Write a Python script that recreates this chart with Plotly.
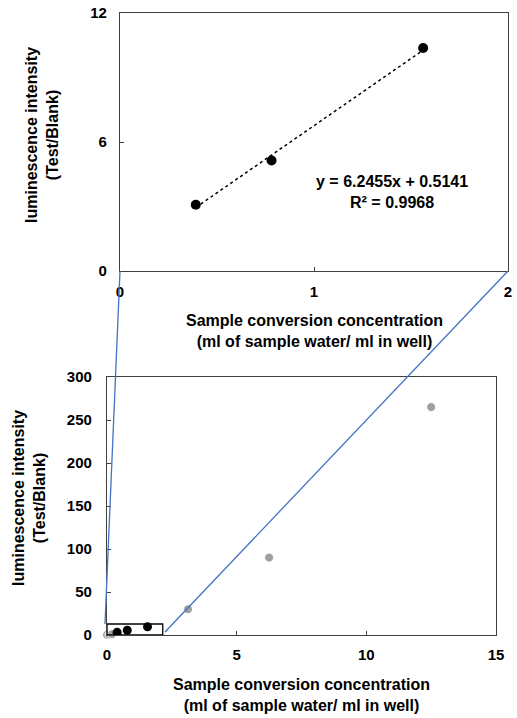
import plotly.graph_objects as go

W, H = 517, 718

# ---- data ----
zoom_x = [0.390625, 0.78125, 1.5625]
zoom_y = [3.08, 5.14, 10.37]
full_gray_x = [0.0, 0.098, 0.195, 3.125, 6.25, 12.5]
full_gray_y = [0.2, 0.5, 1.0, 30, 90, 265]
full_black_x = [0.390625, 0.78125, 1.5625]
full_black_y = [3.08, 5.5, 9.5]
slope, intercept = 6.2455, 0.5141
r2 = 0.9968
top_xticks = [0, 1, 2]
top_yticks = [0, 6, 12]
bot_xticks = [0, 5, 10, 15]
bot_yticks = [0, 50, 100, 150, 200, 250, 300]

x_title = "Sample conversion concentration<br>(ml of sample water/ ml in well)"
y_title = "luminescence intensity<br>(Test/Blank)"

FONT = "Liberation Sans, Arial, sans-serif"
bold = dict(family=FONT, size=16, color="#000000", weight="bold")
tickbold = dict(family=FONT, size=15, color="#000000", weight="bold")
AX = "#404040"
BLUE = "#4472C4"

def px(x):
    return x / W

def py(y):
    return 1 - y / H

fig = go.Figure()

trend_x = [min(zoom_x), max(zoom_x)]
trend_y = [slope * v + intercept for v in trend_x]
fig.add_trace(go.Scatter(x=trend_x, y=trend_y, mode="lines",
                         line=dict(color="#000000", width=1.5, dash="dot"),
                         xaxis="x", yaxis="y", showlegend=False, hoverinfo="skip"))
fig.add_trace(go.Scatter(x=zoom_x, y=zoom_y, mode="markers",
                         marker=dict(color="#000000", size=10),
                         xaxis="x", yaxis="y", showlegend=False))

fig.add_trace(go.Scatter(x=full_gray_x, y=full_gray_y, mode="markers",
                         marker=dict(color="#A0A0A0", size=9,
                                     line=dict(color="#FFFFFF", width=1)),
                         xaxis="x2", yaxis="y2", showlegend=False, cliponaxis=False))
fig.add_trace(go.Scatter(x=full_black_x, y=full_black_y, mode="markers",
                         marker=dict(color="#000000", size=9),
                         xaxis="x2", yaxis="y2", showlegend=False))

axis_common = dict(showgrid=False, zeroline=False, showline=True, linecolor=AX,
                   linewidth=1.3, mirror=True, ticks="inside", ticklen=4,
                   tickcolor=AX, tickfont=tickbold, automargin=False)

fig.update_layout(
    width=W, height=H,
    margin=dict(l=0, r=0, t=0, b=0, autoexpand=False),
    paper_bgcolor="#FFFFFF", plot_bgcolor="#FFFFFF",
    xaxis=dict(domain=[px(120), px(508)], range=[0, 2], tickvals=top_xticks,
               anchor="y", ticklabelstandoff=7, **axis_common),
    yaxis=dict(domain=[py(271), py(13)], range=[0, 12], tickvals=top_yticks,
               anchor="x", ticklabelstandoff=9, **axis_common),
    xaxis2=dict(domain=[px(107), px(496)], range=[0, 15], tickvals=bot_xticks,
                anchor="y2", ticklabelstandoff=6, **axis_common),
    yaxis2=dict(domain=[py(635), py(377)], range=[0, 300], tickvals=bot_yticks,
                anchor="x2", ticklabelstandoff=11, **axis_common),
)

# zoom rectangle in lower chart
fig.add_shape(type="rect", xref="x2", yref="y2", x0=0, x1=2.15, y0=0, y1=12.8,
              line=dict(color="#000000", width=1.3), fillcolor="rgba(0,0,0,0)")

# connector lines
fig.add_shape(type="line", xref="paper", yref="paper",
              x0=px(120), y0=py(271), x1=px(105), y1=py(624),
              line=dict(color=BLUE, width=1.3))
fig.add_shape(type="line", xref="paper", yref="paper",
              x0=px(508), y0=py(271), x1=px(165), y1=py(632),
              line=dict(color=BLUE, width=1.3))

ann = dict(xref="paper", yref="paper", showarrow=False, font=bold, align="center",
           xanchor="center", yanchor="middle")
# axis titles
fig.add_annotation(text=x_title, x=px(314), y=py(331), **ann)
fig.add_annotation(text=x_title, x=px(301), y=py(695), **ann)
fig.add_annotation(text=y_title, x=px(42), y=py(135), textangle=-90, **ann)
fig.add_annotation(text=y_title, x=px(29), y=py(498), textangle=-90, **ann)

# trendline equation
fig.add_annotation(text=f"y = {slope}x + {intercept}<br>R² = {r2}",
                   x=px(392), y=py(192), **ann)

fig.write_html("out.html", config={"displayModeBar": False},
               post_script="document.body.style.margin='0';document.body.style.overflow='hidden';")
